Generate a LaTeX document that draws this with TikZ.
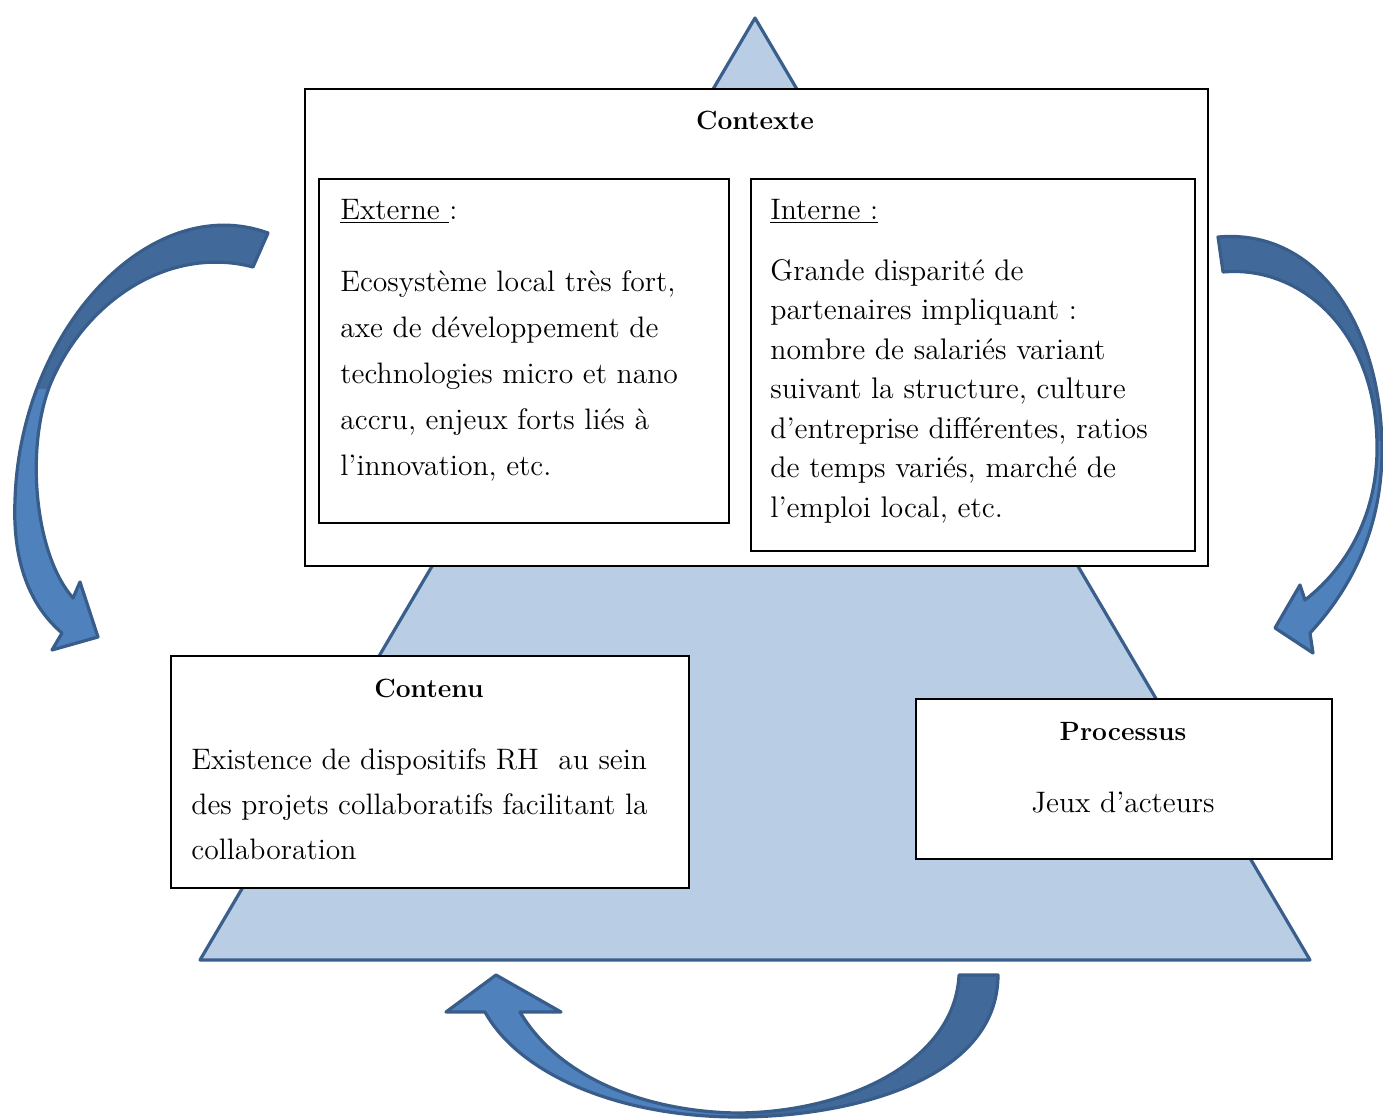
\documentclass[tikz,border=0pt]{standalone}
\usepackage{tikz}
\definecolor{trifill}{HTML}{B9CDE5}
\definecolor{triline}{HTML}{3A5F8C}
\definecolor{arlight}{HTML}{4F81BD}
\definecolor{ardark}{HTML}{41699A}
\definecolor{arline}{HTML}{385D8A}
\tikzset{
  tri/.style={draw=triline, fill=trifill, line width=1.6pt, line join=round},
  arrline/.style={draw=arline, line width=1.6pt, line join=round},
  box/.style={draw=black, fill=white, line width=0.9pt, inner sep=0pt, anchor=north west},
  body/.style={font=\fontsize{14.8}{23}\selectfont, align=left, inner sep=0pt, anchor=north west},
  bodyint/.style={body, font=\fontsize{14.9}{19.75}\selectfont},
  bodycont/.style={body, font=\fontsize{14.8}{22.5}\selectfont},
  head/.style={font=\fontsize{14.8}{17}\selectfont, inner sep=0pt, anchor=base west},
  title/.style={font=\fontsize{13.2}{16}\selectfont\bfseries, inner sep=0pt, anchor=base},
  plain/.style={font=\fontsize{14.8}{17}\selectfont, inner sep=0pt, anchor=base},
}
\newcommand\arrowLpath{(268,233) .. controls (150,190) and (20,330) .. (15,500) .. controls (12,570) and (35,610) .. (62,633)
  -- (52,650) -- (98,637) -- (80,582) -- (73,598)
  .. controls (35,555) and (25,450) .. (50,385) .. controls (85,300) and (170,245) .. (253,267) -- cycle}
\newcommand\arrowRpath{(1218,237) .. controls (1320,228) and (1382,330) .. (1382,450) .. controls (1382,530) and (1350,590) .. (1310,633)
  -- (1313,653) -- (1275,628) -- (1300,585) -- (1305,600)
  .. controls (1350,565) and (1378,510) .. (1377,445) .. controls (1376,330) and (1300,265) .. (1223,272) -- cycle}
\newcommand\arrowBpath{(998,975) .. controls (998,1080) and (850,1117) .. (738,1117) .. controls (620,1117) and (520,1075) .. (485,1012)
  -- (446,1012) -- (496,975) -- (561,1012) -- (520,1012)
  .. controls (560,1080) and (650,1112) .. (738,1113) .. controls (850,1112) and (955,1060) .. (959,975) -- cycle}
\begin{document}
\begin{tikzpicture}[x=0.5pt,y=-0.5pt]
\useasboundingbox (0,0) rectangle (1383,1119);
% triangle
\draw[tri] (755,18) -- (1310,960) -- (200,960) -- cycle;
% left curved arrow
\fill[arlight] \arrowLpath;
\begin{scope}\clip (0,0) rectangle (300,388);\fill[ardark] \arrowLpath;\end{scope}
\draw[arrline] \arrowLpath;
% right curved arrow
\fill[arlight] \arrowRpath;
\begin{scope}\clip (1200,0) rectangle (1383,440);\fill[ardark] \arrowRpath;\end{scope}
\draw[arrline] \arrowRpath;
% bottom curved arrow
\fill[arlight] \arrowBpath;
\begin{scope}\clip (738,960) rectangle (1100,1119);\fill[ardark] \arrowBpath;\end{scope}
\draw[arrline] \arrowBpath;
% Contexte
\node[box, minimum width=451.5pt, minimum height=238.5pt] (ctx) at (304,88) {};
\node[title] (ctxt) at (755,129) {Contexte};
\node[box, minimum width=205pt, minimum height=172pt] (ext) at (318,178) {};
\node[head] (exth) at (340,219) {\underline{Externe }:};
\node[body] (extt) at (340,270) {Ecosystème local très fort,\\ axe de développement de\\ technologies micro et nano\\ accru, enjeux forts liés à\\ l’innovation, etc.};
\node[box, minimum width=222pt, minimum height=186pt] (int) at (750,178) {};
\node[head] (inth) at (770,219) {\underline{Interne :}};
\node[bodyint] (intt) at (770,259) {Grande disparité de\\ partenaires impliquant :\\ nombre de salariés variant\\ suivant la structure, culture\\ d’entreprise différentes, ratios\\ de temps variés, marché de\\ l’emploi local, etc.};
% Contenu
\node[box, minimum width=259pt, minimum height=116pt] (cont) at (170,655) {};
\node[title] (contt) at (429,697) {Contenu};
\node[bodycont] (conttx) at (191,748) {Existence de dispositifs RH\ \ au sein\\ des projets collaboratifs facilitant la\\ collaboration};
% Processus
\node[box, minimum width=208pt, minimum height=80pt] (proc) at (915,698) {};
\node[title] (proct) at (1123,740) {Processus};
\node[plain] (proctx) at (1123,812) {Jeux d’acteurs};
\end{tikzpicture}
\end{document}
